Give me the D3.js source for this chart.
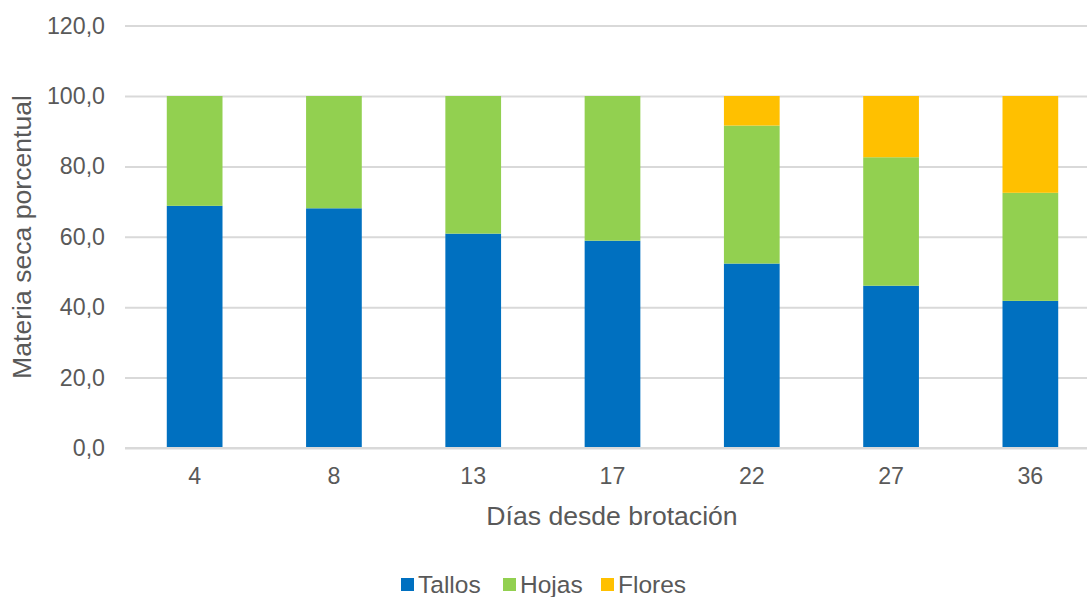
<!DOCTYPE html>
<html>
<head>
<meta charset="utf-8">
<script src="https://cdn.jsdelivr.net/npm/d3@7/dist/d3.min.js"></script>
<style>
  html, body { margin: 0; padding: 0; background: #fff; }
  svg { display: block; font-family: "Liberation Sans", Arial, sans-serif; }
</style>
</head>
<body>
<svg id="chart" width="1087" height="597"></svg>
<script>
// Días desde brotación
const dias = ["4", "8", "13", "17", "22", "27", "36"];
// Materia seca porcentual por órgano
const tallos = [68.8, 68.1, 60.9, 58.9, 52.4, 46.1, 41.8];
const hojas  = [31.2, 31.9, 39.1, 41.1, 39.2, 36.5, 30.7];
const flores = [0, 0, 0, 0, 8.4, 17.4, 27.5];
const yTicks = [0, 20, 40, 60, 80, 100, 120];

const seriesNames = ["Tallos", "Hojas", "Flores"];
const colors = ["#0070C0", "#92D050", "#FFC000"];

const rows = dias.map((d, i) => ({ dia: d, Tallos: tallos[i], Hojas: hojas[i], Flores: flores[i] }));

const svg = d3.select("#chart");
const plot = { left: 125, right: 1100, top: 25.6, bottom: 448 };
const textColor = "#595959";

const x = d3.scaleBand().domain(dias).range([plot.left, plot.right]).paddingInner(0.6).paddingOuter(0.3);
const y = d3.scaleLinear().domain([0, 120]).range([plot.bottom, plot.top]);

// Gridlines and y tick labels
const yAxis = d3.axisLeft(y).tickValues(yTicks).tickSize(-(plot.right - plot.left)).tickPadding(20)
  .tickFormat(v => d3.format(".1f")(v).replace(".", ","));
const gy = svg.append("g").attr("transform", `translate(${plot.left},0)`).call(yAxis);
gy.select(".domain").remove();
gy.selectAll(".tick line").attr("stroke", "#d9d9d9").attr("stroke-width", 2);
gy.selectAll(".tick text").attr("fill", textColor).attr("font-size", 23.2).attr("x", -20);

// Stacked bars
const stack = d3.stack().keys(seriesNames)(rows);
svg.append("g").selectAll("g").data(stack).join("g")
  .attr("fill", (d, i) => colors[i])
  .selectAll("rect").data(d => d.filter(p => p[1] - p[0] > 0)).join("rect")
  .attr("x", d => x(d.data.dia))
  .attr("width", x.bandwidth())
  .attr("y", d => y(d[1]))
  .attr("height", d => y(d[0]) - y(d[1]));

// Baseline
svg.append("line").attr("x1", plot.left).attr("x2", plot.right)
  .attr("y1", y(0)).attr("y2", y(0)).attr("stroke", "#d9d9d9").attr("stroke-width", 2);

// X tick labels
const xAxis = d3.axisBottom(x).tickSize(0).tickPadding(20);
const gx = svg.append("g").attr("transform", `translate(0,${plot.bottom})`).call(xAxis);
gx.select(".domain").remove();
gx.selectAll(".tick text").attr("fill", textColor).attr("font-size", 23.2);

// Axis titles
svg.append("text").attr("x", 612).attr("y", 525)
  .attr("text-anchor", "middle").attr("fill", textColor).attr("font-size", 26.6)
  .text("Días desde brotación");
svg.append("text").attr("transform", "translate(31,237) rotate(-90)")
  .attr("text-anchor", "middle").attr("fill", textColor).attr("font-size", 26.6)
  .text("Materia seca porcentual");

// Legend
const legendX = [401, 503, 601];
const legend = svg.append("g").selectAll("g").data(seriesNames).join("g")
  .attr("transform", (d, i) => `translate(${legendX[i]},578)`);
legend.append("rect").attr("width", 13).attr("height", 13).attr("fill", (d, i) => colors[i]);
legend.append("text").attr("x", 17).attr("y", 14.5).attr("fill", textColor).attr("font-size", 24.5).text(d => d);
</script>
</body>
</html>
